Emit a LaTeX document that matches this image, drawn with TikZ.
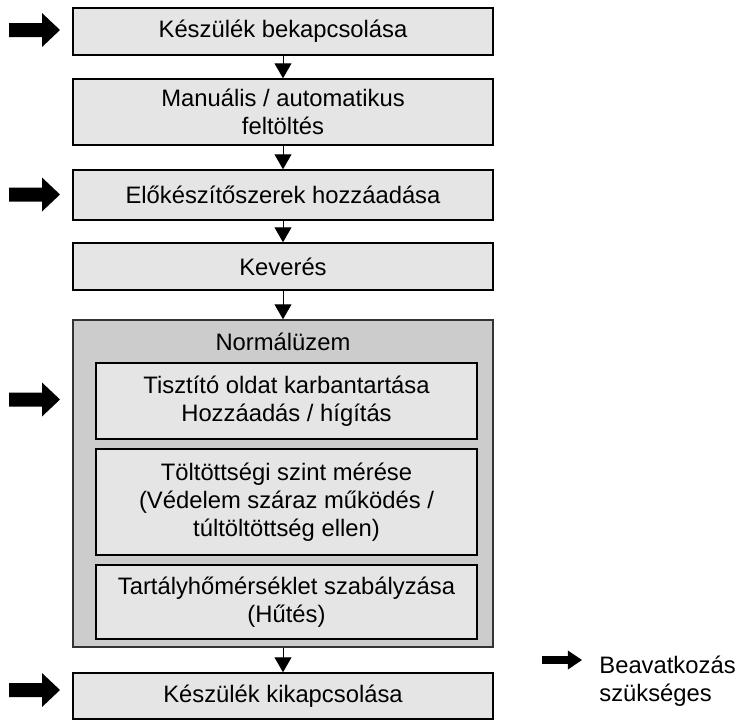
\documentclass[tikz,border=0pt]{standalone}
\usepackage{fontspec}
\setmainfont{Liberation Sans}
\usetikzlibrary{arrows.meta}

\tikzset{
	txt/.style={font=\fontsize{11.9}{14}\selectfont, align=center},
	box/.style={txt, draw, line width=0.75pt, fill=black!10, inner sep=0pt, minimum width=210pt},
	subbox/.style={box, minimum width=190.5pt},
	groupbox/.style={draw=black!80, line width=0.75pt, fill=black!20, inner sep=0pt, minimum width=210pt, minimum height=163.5pt},
	flow/.style={line width=0.5pt, -{Triangle[width=8.5pt,length=7.5pt]}},
	blockarrow/.pic={\fill (-25.5,-7) -- (7.5,-7) -- (7.5,-17) -- (25.5,0) -- (7.5,17) -- (7.5,7) -- (-25.5,7) -- cycle;}
}

\begin{document}
\begin{tikzpicture}[x=0.5pt,y=-0.5pt]
		\useasboundingbox (0,0) rectangle (745,720);
		
		% Steps
		\node[box, minimum height=23.5pt] (on) at (283,31.5) {Készülék bekapcsolása};
		\node[box, minimum height=33pt] (fill) at (283,112) {Manuális / automatikus\\feltöltés};
		\node[box, minimum height=25pt] (add) at (283,195) {Előkészítőszerek hozzáadása};
		\node[box, minimum height=23.5pt] (mix) at (283,266.5) {Keverés};
		
		% Normal operation
		\node[groupbox] (normal) at (283,483.5) {};
		\node[txt] (normaltitle) at (283,342) {Normálüzem};
		\node[subbox, minimum height=38pt] (clean) at (286.5,401) {Tisztító oldat karbantartása\\Hozzáadás / hígítás};
		\node[subbox, minimum height=53pt] (level) at (286.5,502) {Töltöttségi szint mérése\\(Védelem száraz működés /\\túltöltöttség ellen)};
		\node[subbox, minimum height=37pt] (temp) at (286.5,602) {Tartályhőmérséklet szabályzása\\(Hűtés)};
		
		\node[box, minimum height=23pt] (off) at (283,696) {Készülék kikapcsolása};
		
		% Flow arrows
		\draw[flow] (on) -- (fill);
		\draw[flow] (fill) -- (add);
		\draw[flow] (add) -- (mix);
		\draw[flow] (mix) -- (normal);
		\draw[flow] (normal) -- (off);
		
		% Intervention arrows
		\pic at (34.5,30) {blockarrow};
		\pic at (34.5,194.5) {blockarrow};
		\pic at (34.5,399.5) {blockarrow};
		\pic at (34.5,690) {blockarrow};
		
		% Legend
		\pic[xscale=0.784, yscale=0.56] at (562,660) {blockarrow};
		\node[txt, align=left, anchor=west, inner sep=0pt] (legend) at (599,681) {Beavatkozás\\szükséges};
	\end{tikzpicture}
\end{document}
